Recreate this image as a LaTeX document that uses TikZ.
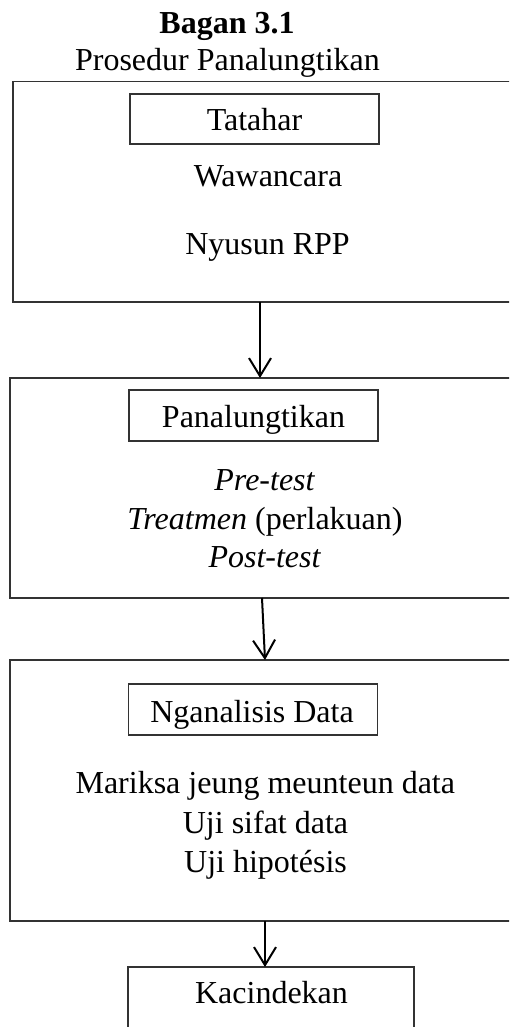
\documentclass[tikz,border=0pt]{standalone}
\usepackage{fontspec}
\setmainfont{Liberation Serif}
\usetikzlibrary{arrows.meta}
\begin{document}
\begin{tikzpicture}[x=0.5pt,y=-0.5pt,
  every node/.style={font=\fontsize{16}{18}\selectfont, inner sep=0pt, outer sep=0pt},
  bigbox/.style={draw=black!80, line width=0.8pt, anchor=north west, minimum width=265pt},
  smallbox/.style={draw=black!80, line width=0.8pt, minimum width=124.5pt, minimum height=25pt},
  txt/.style={anchor=base},
  arr/.style={draw=black, line width=1pt, -{Straight Barb[length=9pt,width=11pt]}}]
\useasboundingbox (0,0) rectangle (509,1027);
\clip (0,0) rectangle (509,1027);

% titles
\node[txt, font=\fontsize{16}{18}\selectfont\bfseries] (title) at (227,34) {Bagan 3.1};
\node[txt] (subtitle) at (227.5,71) {Prosedur Panalungtikan};

% big boxes
\node[bigbox, minimum height=110.15pt] (box1) at (12.7,81.7) {};
\node[bigbox, minimum height=110pt] (box2) at (10,378) {};
\node[bigbox, minimum height=130.5pt] (box3) at (10,660) {};

% inner boxes
\node[smallbox] (tatahar) at (254.5,119) {};
\node[txt] (tatahart) at (254.5,131) {Tatahar};
\node[txt] (waw) at (268,187) {Wawancara};
\node[txt] (rpp) at (267.5,255) {Nyusun RPP};

\node[smallbox, minimum height=25.5pt] (panal) at (253.5,415.5) {};
\node[txt] (panalt) at (253.5,427) {Panalungtikan};
\node[txt] (pre) at (264.5,490) {\itshape Pre-test};
\node[txt] (treat) at (265,529) {\textit{Treatmen} (perlakuan)};
\node[txt] (post) at (264.5,567) {\itshape Post-test};

\node[smallbox, minimum height=25.5pt] (ngan) at (253,709.5) {};
\node[txt] (ngant) at (252,722) {Nganalisis Data};
\node[txt] (mar) at (265.3,793) {Mariksa jeung meunteun data};
\node[txt] (sifat) at (265.5,833) {Uji sifat data};
\node[txt] (hip) at (265.5,872) {Uji hipotésis};

\node[draw=black!80, line width=0.8pt, anchor=north west, minimum width=143pt, minimum height=50pt] (kac) at (128,967) {};
\node[txt] (kact) at (271.5,1003) {Kacindekan};

% arrows
\coordinate (ax1) at (260,0);
\coordinate (ax2a) at (262,0);
\coordinate (ax2b) at (265,0);
\coordinate (ax3) at (265,0);
\draw[arr] (box1.south -| ax1) -- (box2.north -| ax1);
\draw[arr] (box2.south -| ax2a) -- (box3.north -| ax2b);
\draw[arr] (box3.south -| ax3) -- (kac.north -| ax3);
\end{tikzpicture}
\end{document}
